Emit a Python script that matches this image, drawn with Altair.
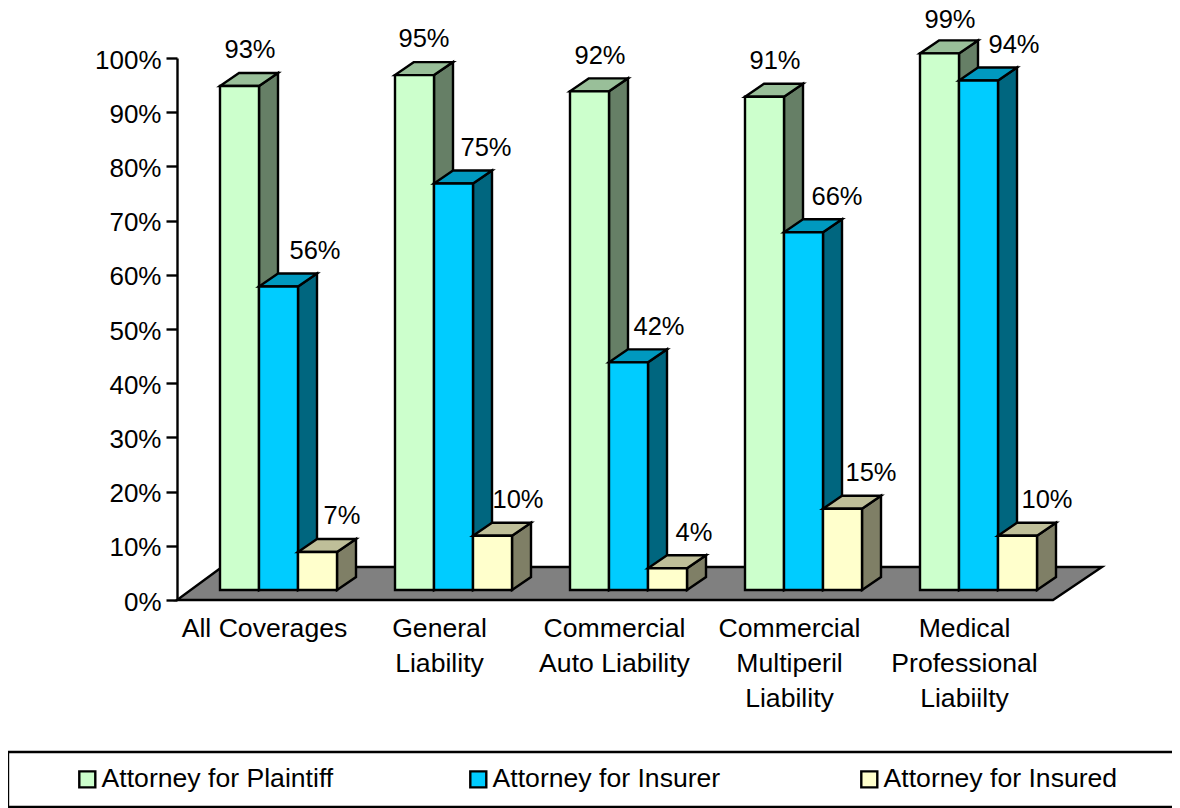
import altair as alt
import pandas as pd

categories = ["All Coverages", "General\nLiability", "Commercial\nAuto Liability",
              "Commercial\nMultiperil\nLiability", "Medical\nProfessional\nLiabiilty"]
series = ["Attorney for Plaintiff", "Attorney for Insurer", "Attorney for Insured"]
plaintiff = [93, 95, 92, 91, 99]
insurer = [56, 75, 42, 66, 94]
insured = [7, 10, 4, 15, 10]
front_colors = ["#CCFFCC", "#00CCFF", "#FFFFCC"]
top_colors = ["#99BF99", "#0099BF", "#BFBF99"]
side_colors = ["#667F66", "#00667F", "#7F7F66"]

FONT = "Liberation Sans"
FS = 26.6
FS_NUM = 25.5
SW = 2.4
PX_Y = 542 / 100          # pixels per percent
PX_X = 175                # pixels per category step
LEFT, TOP = 169, 50
TOTAL_W, TOTAL_H = 1164, 800
W, H = TOTAL_W - LEFT, 542
BAR = 39 / PX_X
DX = 19 / PX_X
DY = 13 / PX_Y
BASE = 10 / PX_Y
START = 43 / PX_X
LABEL_DX = [[10.5, 9.5, 10.5, 10.5, 10.5],
            [36.5, 32.5, 30.5, 33.5, 35.5],
            [24.5, 25.5, 26.5, 28.5, 29.5]]
LABEL_DY = [[35.7, 35.7, 35.7, 35.7, 33.7],
            [35.7] * 5,
            [35.7] * 5]

xs = alt.Scale(domain=[0, W / PX_X], range=[0, W], nice=False, zero=False)
ys = alt.Scale(domain=[0, 100], range=[H, 0], nice=False, zero=False, clamp=False)
y_axis = alt.Axis(
    values=list(range(0, 101, 10)), labelExpr="datum.value + '%'", title=None,
    domainColor="black", domainWidth=SW, tickColor="black", tickWidth=SW,
    tickSize=11, labelPadding=5, labelOffset=2, labelFont=FONT, labelFontSize=26,
    labelColor="black", grid=False, labelFlush=False, labelOverlap=False)
X = lambda f: alt.X(f, type="quantitative", scale=xs, axis=None)
Y = lambda f: alt.Y(f, type="quantitative", scale=ys, axis=y_axis, stack=None, title=None)

# floor
floor = pd.DataFrame({"y": [0, 33 / PX_Y],
                      "x1": [0, 45 / PX_X],
                      "x2": [876 / PX_X, 925 / PX_X]})
floor_layer = alt.Chart(floor).mark_area(
    orient="horizontal", fill="#808080", stroke="black", strokeWidth=SW, strokeJoin="miter"
).encode(y=Y("y"), x=X("x1"), x2=alt.X2("x2"))

layers = [floor_layer]
vals = [plaintiff, insurer, insured]
for s, name in enumerate(series):
    rows = []
    for g, v in enumerate(vals[s]):
        left = START + g + s * BAR
        rows.append(dict(g=g, series=name, value=v, left=left, right=left + BAR,
                         bottom=BASE, top=BASE + v, ldx=LABEL_DX[s][g] / PX_X,
                         ldy=LABEL_DY[s][g] / PX_Y))
    df = pd.DataFrame(rows)
    side = pd.concat([
        df.assign(sx=df.right, sy=df.bottom, sy2=df.top),
        df.assign(sx=df.right + DX, sy=df.bottom + DY, sy2=df.top + DY)])
    top = pd.concat([
        df.assign(ty=df.top, tx=df.left, tx2=df.right),
        df.assign(ty=df.top + DY, tx=df.left + DX, tx2=df.right + DX)])
    layers.append(alt.Chart(side).mark_area(
        fill=side_colors[s], stroke="black", strokeWidth=SW, strokeJoin="miter"
    ).encode(x=X("sx"), y=Y("sy"), y2=alt.Y2("sy2"), detail="g:N"))
    layers.append(alt.Chart(top).mark_area(
        orient="horizontal", fill=top_colors[s], stroke="black", strokeWidth=SW, strokeJoin="miter"
    ).encode(y=Y("ty"), x=X("tx"), x2=alt.X2("tx2"), detail="g:N"))
    layers.append(alt.Chart(df).mark_rect(stroke="black", strokeWidth=SW).encode(
        x=X("left"), x2=alt.X2("right"), y=Y("bottom"), y2=alt.Y2("top"),
        color=alt.Color("series:N", scale=alt.Scale(domain=series, range=front_colors),
                        legend=alt.Legend(
                            title=None, orient="none", legendX=-103, legendY=708,
                            columns=3, gridAlign="all", columnPadding=129, padding=0,
                            symbolType="square", symbolSize=256, symbolStrokeColor="black",
                            symbolStrokeWidth=SW, symbolOpacity=1, labelFont=FONT,
                            labelFontSize=FS, labelColor="black", labelOffset=1,
                            labelLimit=400, symbolOffset=0, direction="horizontal"))))
    lab = df.assign(lx=(df.left + BAR / 2 + df.ldx), ly=df.top + df.ldy,
                    txt=df.value.astype(str) + "%")
    layers.append(alt.Chart(lab).mark_text(
        font=FONT, fontSize=FS_NUM, color="black", align="center", baseline="middle"
    ).encode(x=X("lx"), y=Y("ly"), text="txt:N"))

cat_df = pd.DataFrame({"label": categories,
                       "x": [START + g + 44.5 / PX_X for g in range(len(categories))],
                       "y": [-16 / PX_Y] * len(categories)})
layers.append(alt.Chart(cat_df).mark_text(
    font=FONT, fontSize=FS, color="black", align="center", baseline="top",
    lineBreak="\n", lineHeight=35
).encode(x=X("x"), y=Y("y"), text="label:N"))

box = alt.Chart(pd.DataFrame({"a": [0]})).mark_rect(
    fill="white", stroke="black", strokeWidth=SW
).encode(x=alt.value(-169), x2=alt.value(W + 20), y=alt.value(694), y2=alt.value(749))

chart = alt.layer(*([box] + layers)).properties(
    width=W, height=H, background="white",
    padding={"left": LEFT, "top": TOP, "right": 0, "bottom": TOTAL_H - TOP - H},
    autosize=alt.AutoSizeParams(type="none"),
).configure_view(stroke=None)

chart.save("out.html", embed_options={"renderer": "svg", "actions": False})
